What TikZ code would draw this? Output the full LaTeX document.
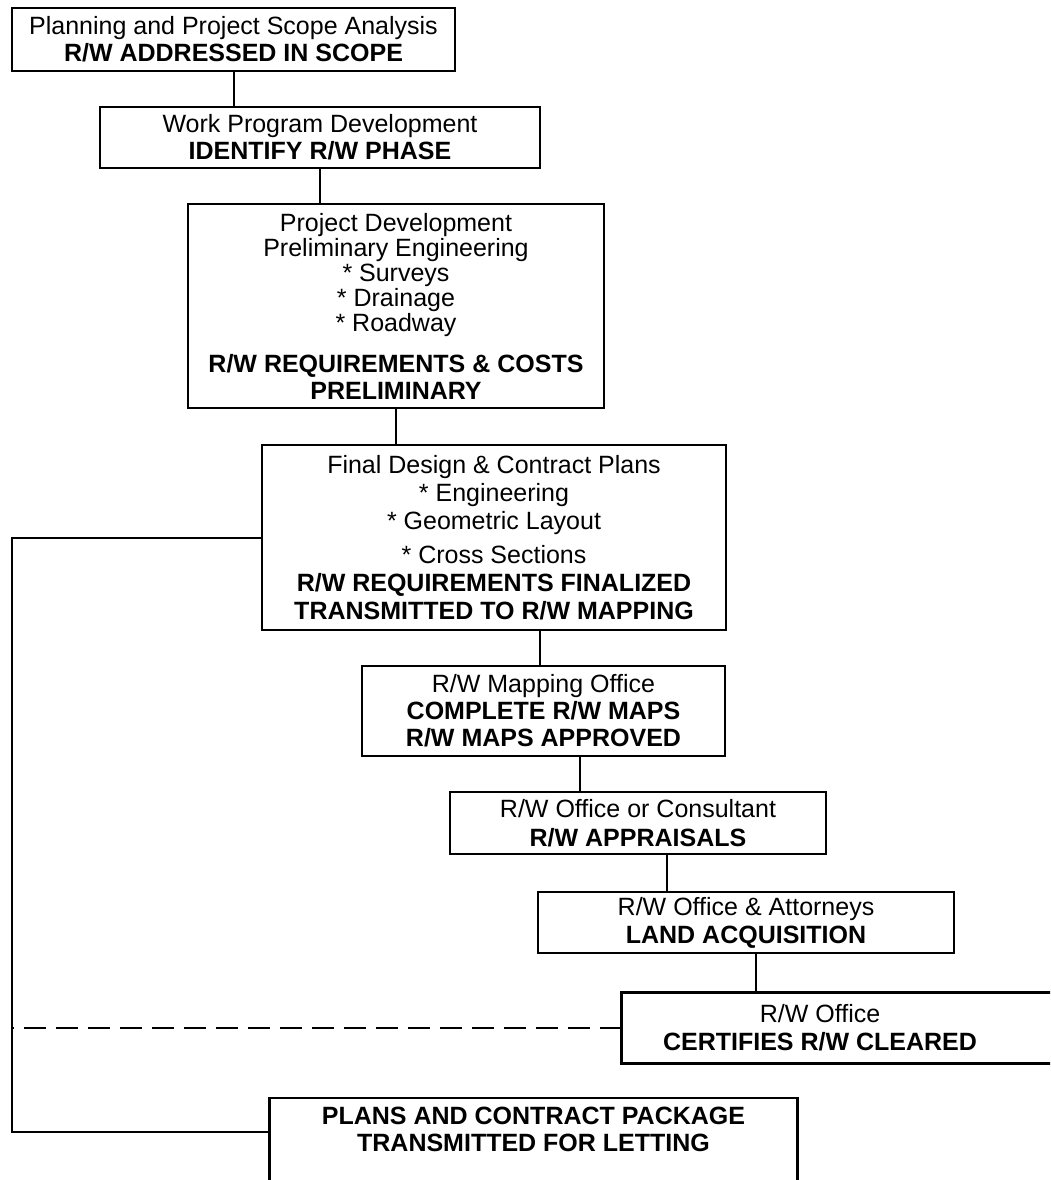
\documentclass[tikz,border=0pt]{standalone}
\usepackage{fontspec}
\setmainfont{Liberation Sans}
\usetikzlibrary{calc}

\begin{document}
\begin{tikzpicture}[x=1pt, y=-1pt,
    txt/.style={font=\fontsize{25}{27}\selectfont, align=center, inner sep=0pt},
    stage/.style={txt, draw, line width=2.8pt},
    link/.style={line width=2pt}]

\useasboundingbox (0,0) rectangle (1050,1180);
\clip (0,0) rectangle (1050,1180);

% Planning
\node[stage, minimum width=443, minimum height=63] (plan) at (233.5,39.5)
    {Planning and Project Scope Analysis\\ \textbf{R/W ADDRESSED IN SCOPE}};

% Work program
\node[stage, minimum width=440, minimum height=61] (prog) at (320,137.5)
    {Work Program Development\\ \textbf{IDENTIFY R/W PHASE}};

% Project development
\node[stage, font=\fontsize{25}{25}\selectfont, minimum width=416, minimum height=204] (prel) at (396,306)
    {Project Development\\ Preliminary Engineering\\ * Surveys\\ * Drainage\\ * Roadway\\[16pt]
     \textbf{R/W REQUIREMENTS \& COSTS}\\[2pt] \textbf{PRELIMINARY}};

% Final design
\node[stage, font=\fontsize{25}{28}\selectfont, minimum width=464, minimum height=185] (final) at (494,537.5)
    {Final Design \& Contract Plans\\ * Engineering\\ * Geometric Layout\\[6pt] * Cross Sections\\
     \textbf{R/W REQUIREMENTS FINALIZED}\\ \textbf{TRANSMITTED TO R/W MAPPING}};

% Mapping office
\node[stage, minimum width=363, minimum height=90] (maps) at (543.5,711)
    {R/W Mapping Office\\ \textbf{COMPLETE R/W MAPS}\\ \textbf{R/W MAPS APPROVED}};

% Appraisals
\node[stage, font=\fontsize{25}{29}\selectfont, minimum width=376, minimum height=62] (appr) at (638,823)
    {R/W Office or Consultant\\ \textbf{R/W APPRAISALS}};

% Acquisition
\node[stage, font=\fontsize{25}{28}\selectfont, minimum width=416, minimum height=61] (acq) at (746,922.5)
    {R/W Office \& Attorneys\\ \textbf{LAND ACQUISITION}};

% Certification (runs off the right edge)
\node[txt, font=\fontsize{25}{28}\selectfont, minimum width=396, minimum height=70] (cert) at (820,1028)
    {R/W Office\\ \textbf{CERTIFIES R/W CLEARED}};
\draw[line width=2.8pt] (cert.north west) rectangle ($(cert.south east)+(60,0)$);

% Letting package (runs off the bottom edge)
\node[txt, minimum width=527, inner ysep=8.5pt, anchor=north] (pkg) at (533.5,1098)
    {\textbf{PLANS AND CONTRACT PACKAGE}\\ \textbf{TRANSMITTED FOR LETTING}};
\draw[line width=2.8pt] (pkg.north west) ++(0,100) -- (pkg.north west) -- (pkg.north east) -- ++(0,100);

% Connectors
\draw[link] (plan.south) -- (plan.south |- prog.north);
\draw[link] (prog.south) -- (prog.south |- prel.north);
\draw[link] (prel.south) -- (prel.south |- final.north);
\draw[link] ($(final.south)+(46,0)$) coordinate (c1) -- (c1 |- maps.north);
\draw[link] ($(maps.south)+(36.5,0)$) coordinate (c2) -- (c2 |- appr.north);
\draw[link] ($(appr.south)+(29,0)$) coordinate (c3) -- (c3 |- acq.north);
\draw[link] ($(acq.south)+(10,0)$) coordinate (c4) -- (c4 |- cert.north);

% Return line
\coordinate (turn) at (12,1132);
\draw[link] (final.west) -| (turn) -- (turn -| pkg.west);
\draw[link, dash pattern=on 22pt off 10pt] (cert.west) -- (cert.west -| turn);

\end{tikzpicture}
\end{document}
